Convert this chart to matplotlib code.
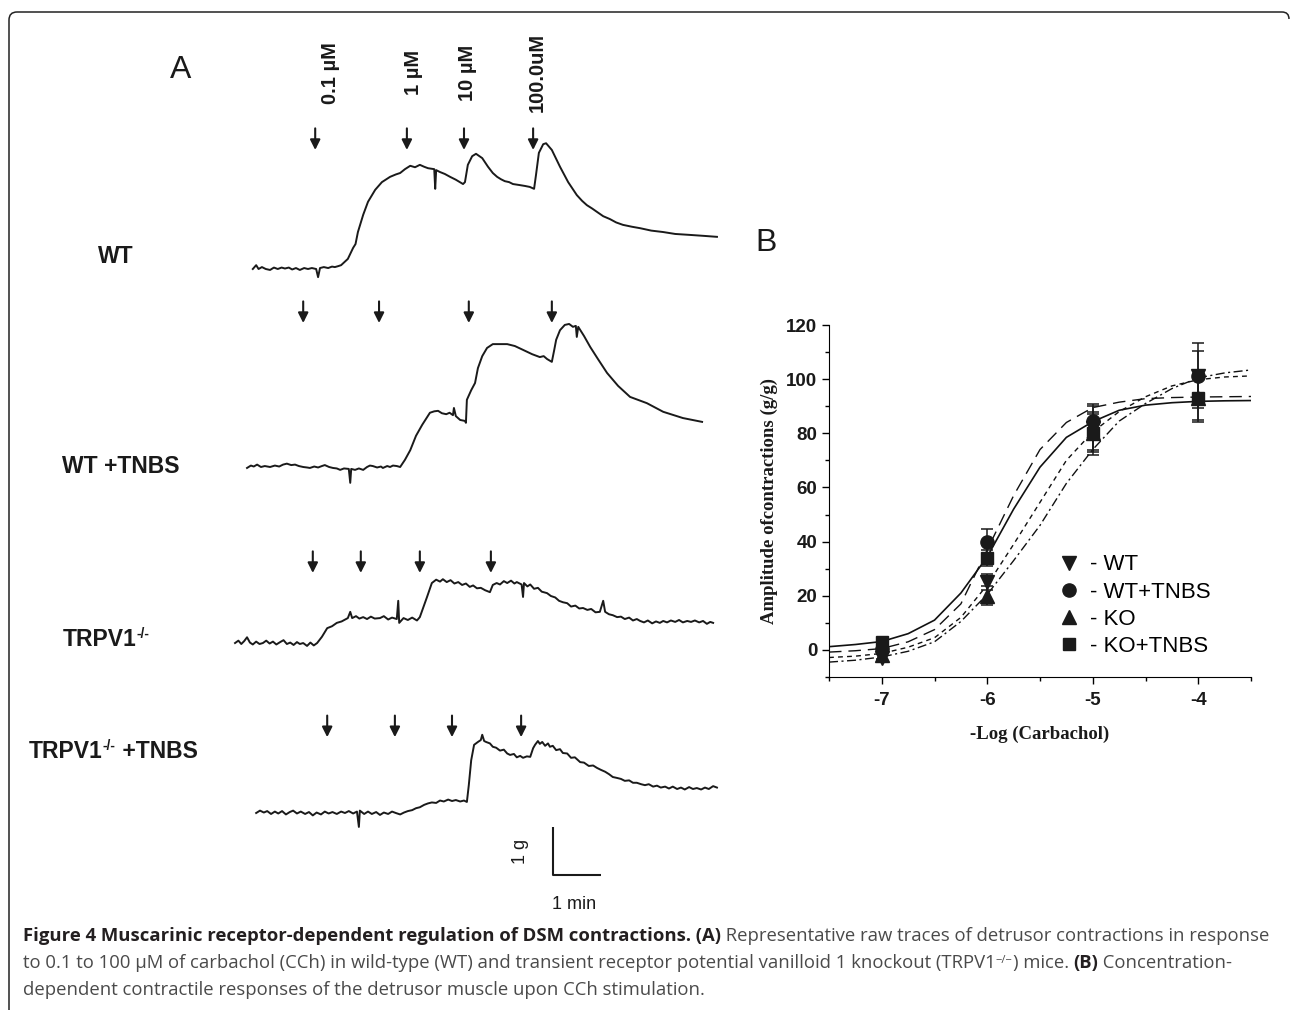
import matplotlib
matplotlib.use('Agg')
import matplotlib.pyplot as plt
from matplotlib.lines import Line2D
from matplotlib.path import Path
from matplotlib.patches import PathPatch
from matplotlib.transforms import IdentityTransform

W, H = 1290, 1010
DPI = 100

SANS = 'Liberation Sans'
SERIF = 'Liberation Serif'
CAP_FONT = 'Open Sans'

# ---------------- panel A: raw traces (time in min, tension in g) ----------------
TRACE_NAMES = ['WT', 'WT +TNBS', 'TRPV1', 'TRPV1']

wt_t = [1.10, 1.17, 1.22, 1.29, 1.37, 1.46, 1.54, 1.62, 1.70, 1.77, 1.85, 1.92, 2.00,
        2.08, 2.17, 2.25, 2.33, 2.42, 2.46, 2.50, 2.58, 2.67, 2.75, 2.81, 2.88, 2.94,
        3.08, 3.19, 3.24, 3.29, 3.40, 3.50, 3.65, 3.79, 3.96, 4.08, 4.17, 4.27, 4.38,
        4.48, 4.58, 4.67, 4.75, 4.88, 4.90, 4.92, 5.00, 5.10, 5.21, 5.33, 5.48, 5.52,
        5.58, 5.67, 5.75, 5.88, 6.00, 6.10, 6.19, 6.27, 6.35, 6.44, 6.52, 6.65, 6.77,
        6.87, 6.96, 7.00, 7.06, 7.15, 7.21, 7.33, 7.50, 7.67, 7.85, 7.96, 8.06, 8.17,
        8.27, 8.40, 8.54, 8.67, 8.81, 9.00, 9.17, 9.40, 9.65, 9.90, 10.21, 10.50, 10.77]
wt_g = [0.00, 0.08, 0.00, 0.04, 0.00, -0.02, 0.03, 0.00, 0.03, 0.01, 0.03, -0.01, 0.02,
        -0.02, 0.02, 0.00, 0.02, 0.00, -0.17, 0.02, 0.04, 0.02, 0.05, 0.04, 0.06, 0.08,
        0.21, 0.44, 0.52, 0.77, 1.13, 1.40, 1.65, 1.81, 1.92, 1.97, 2.00, 2.08, 2.15,
        2.12, 2.17, 2.13, 2.10, 2.08, 1.67, 2.06, 2.02, 1.98, 1.92, 1.86, 1.77, 1.81,
        2.17, 2.35, 2.40, 2.31, 2.13, 2.00, 1.92, 1.87, 1.83, 1.81, 1.77, 1.75, 1.73,
        1.71, 1.67, 1.96, 2.42, 2.60, 2.62, 2.48, 2.13, 1.81, 1.54, 1.42, 1.33, 1.26,
        1.19, 1.10, 1.04, 0.97, 0.92, 0.88, 0.85, 0.80, 0.77, 0.73, 0.71, 0.69, 0.67]

wtt_t = [0.98, 1.06, 1.12, 1.19, 1.27, 1.35, 1.46, 1.56, 1.65, 1.73, 1.81, 1.90, 1.98,
         2.06, 2.15, 2.23, 2.29, 2.38, 2.46, 2.54, 2.60, 2.69, 2.77, 2.85, 2.92, 3.00,
         3.10, 3.13, 3.15, 3.23, 3.31, 3.40, 3.48, 3.54, 3.60, 3.69, 3.77, 3.81, 3.90,
         3.96, 4.02, 4.10, 4.17, 4.27, 4.38, 4.50, 4.63, 4.79, 4.88, 4.96, 5.04, 5.13,
         5.20, 5.27, 5.29, 5.33, 5.42, 5.52, 5.54, 5.56, 5.65, 5.73, 5.79, 5.88, 5.98,
         6.10, 6.25, 6.40, 6.56, 6.73, 6.92, 7.08, 7.16, 7.23, 7.33, 7.38, 7.42, 7.50,
         7.60, 7.69, 7.77, 7.83, 7.85, 7.88, 8.00, 8.13, 8.29, 8.48, 8.71, 8.96, 9.31,
         9.65, 10.06, 10.46]
wtt_g = [-0.02, 0.03, 0.01, 0.05, 0.00, 0.02, 0.00, 0.03, 0.01, 0.05, 0.07, 0.04, 0.05,
         0.02, 0.00, -0.01, -0.02, 0.01, -0.01, 0.02, 0.04, 0.00, -0.02, -0.03, -0.06,
         -0.03, -0.04, -0.33, -0.04, -0.06, -0.03, -0.06, 0.00, 0.03, 0.02, -0.01, 0.01,
         -0.02, 0.02, 0.00, 0.03, 0.02, 0.00, 0.15, 0.35, 0.65, 0.88, 1.13, 1.16, 1.17,
         1.12, 1.10, 1.13, 1.08, 1.23, 1.06, 0.98, 0.96, 0.92, 1.40, 1.60, 1.75, 2.06,
         2.31, 2.48, 2.56, 2.56, 2.56, 2.52, 2.44, 2.35, 2.29, 2.31, 2.25, 2.19, 2.44,
         2.65, 2.85, 2.96, 2.98, 2.92, 2.94, 2.71, 2.92, 2.73, 2.50, 2.25, 1.96, 1.69,
         1.46, 1.33, 1.15, 1.02, 0.94]

ko_t = [0.73, 0.80, 0.86, 0.92, 0.98, 1.04, 1.10, 1.17, 1.24, 1.31, 1.38, 1.45, 1.52,
        1.59, 1.67, 1.74, 1.81, 1.88, 1.95, 2.02, 2.08, 2.15, 2.23, 2.30, 2.37, 2.44,
        2.54, 2.65, 2.75, 2.85, 2.95, 3.08, 3.13, 3.17, 3.25, 3.32, 3.40, 3.48, 3.56,
        3.64, 3.75, 3.83, 3.92, 4.00, 4.10, 4.13, 4.15, 4.24, 4.33, 4.42, 4.52, 4.58,
        4.73, 4.83, 4.92, 5.00, 5.06, 5.14, 5.22, 5.30, 5.38, 5.46, 5.54, 5.62, 5.69,
        5.77, 5.85, 5.94, 6.04, 6.10, 6.18, 6.25, 6.33, 6.40, 6.48, 6.55, 6.60, 6.70,
        6.73, 6.75, 6.82, 6.88, 6.96, 7.04, 7.12, 7.23, 7.31, 7.40, 7.48, 7.56, 7.65,
        7.73, 7.82, 7.90, 7.98, 8.07, 8.15, 8.24, 8.33, 8.40, 8.44, 8.52, 8.60, 8.69,
        8.77, 8.85, 8.94, 9.02, 9.10, 9.17, 9.25, 9.33, 9.42, 9.50, 9.58, 9.65, 9.73,
        9.81, 9.90, 9.98, 10.06, 10.15, 10.23, 10.31, 10.40, 10.48, 10.56, 10.63, 10.69]
ko_g = [0.00, 0.05, -0.02, 0.04, 0.12, 0.01, -0.03, 0.03, -0.02, 0.00, 0.05, -0.01, 0.03,
        -0.03, 0.02, 0.06, -0.02, 0.01, -0.04, 0.02, -0.02, 0.00, -0.06, 0.01, -0.05, 0.00,
        0.13, 0.31, 0.35, 0.42, 0.45, 0.52, 0.65, 0.52, 0.56, 0.51, 0.54, 0.50, 0.55,
        0.51, 0.52, 0.56, 0.49, 0.53, 0.50, 0.88, 0.42, 0.52, 0.48, 0.53, 0.47, 0.54,
        0.96, 1.25, 1.32, 1.28, 1.33, 1.27, 1.31, 1.24, 1.27, 1.21, 1.24, 1.17, 1.20,
        1.14, 1.15, 1.10, 1.06, 1.21, 1.25, 1.22, 1.29, 1.25, 1.30, 1.24, 1.27, 1.22,
        0.96, 1.25, 1.18, 1.22, 1.13, 1.15, 1.07, 1.04, 0.98, 0.95, 0.88, 0.85, 0.83,
        0.76, 0.78, 0.72, 0.73, 0.69, 0.71, 0.64, 0.65, 0.88, 0.65, 0.60, 0.58, 0.54,
        0.55, 0.50, 0.53, 0.47, 0.50, 0.46, 0.43, 0.47, 0.41, 0.45, 0.42, 0.46, 0.43,
        0.47, 0.44, 0.48, 0.43, 0.46, 0.44, 0.47, 0.43, 0.46, 0.40, 0.44, 0.42]

kot_t = [1.17, 1.25, 1.33, 1.40, 1.48, 1.56, 1.63, 1.71, 1.79, 1.87, 1.94, 2.02, 2.10,
         2.19, 2.27, 2.35, 2.43, 2.52, 2.60, 2.68, 2.76, 2.85, 2.94, 3.02, 3.10, 3.19,
         3.27, 3.31, 3.33, 3.42, 3.50, 3.58, 3.67, 3.75, 3.83, 3.92, 4.00, 4.08, 4.17,
         4.25, 4.33, 4.42, 4.50, 4.58, 4.67, 4.75, 4.83, 4.92, 5.00, 5.08, 5.17, 5.25,
         5.33, 5.42, 5.50, 5.56, 5.60, 5.65, 5.71, 5.79, 5.85, 5.88, 5.92, 5.96, 6.04,
         6.10, 6.17, 6.25, 6.33, 6.40, 6.46, 6.54, 6.60, 6.67, 6.73, 6.81, 6.88, 6.94,
         6.98, 7.04, 7.08, 7.13, 7.19, 7.25, 7.29, 7.35, 7.42, 7.50, 7.56, 7.65, 7.73,
         7.81, 7.92, 8.00, 8.10, 8.19, 8.27, 8.35, 8.44, 8.52, 8.60, 8.69, 8.77, 8.85,
         8.94, 9.02, 9.10, 9.19, 9.27, 9.35, 9.44, 9.52, 9.60, 9.69, 9.77, 9.85, 9.94,
         10.02, 10.10, 10.19, 10.27, 10.35, 10.44, 10.52, 10.60, 10.69, 10.77]
kot_g = [0.00, 0.05, 0.01, 0.04, -0.02, 0.03, -0.01, 0.04, -0.03, 0.02, 0.05, -0.01, 0.03,
         -0.02, 0.02, -0.05, 0.01, -0.03, 0.03, -0.01, 0.02, -0.02, 0.03, 0.00, 0.04,
         -0.01, 0.03, -0.29, 0.05, -0.02, 0.03, -0.02, 0.02, -0.04, 0.01, -0.02, 0.03,
         0.00, -0.03, 0.01, 0.04, 0.06, 0.10, 0.12, 0.17, 0.20, 0.22, 0.21, 0.26, 0.24,
         0.28, 0.25, 0.27, 0.24, 0.26, 0.23, 0.58, 1.10, 1.42, 1.48, 1.52, 1.63, 1.50,
         1.48, 1.45, 1.38, 1.36, 1.30, 1.32, 1.24, 1.21, 1.23, 1.16, 1.19, 1.15, 1.18,
         1.17, 1.35, 1.42, 1.50, 1.44, 1.48, 1.40, 1.45, 1.38, 1.40, 1.31, 1.33, 1.25,
         1.24, 1.15, 1.16, 1.06, 1.05, 0.98, 0.99, 0.94, 0.90, 0.86, 0.81, 0.75, 0.73,
         0.71, 0.67, 0.68, 0.63, 0.63, 0.60, 0.58, 0.60, 0.55, 0.57, 0.53, 0.55, 0.51,
         0.55, 0.50, 0.53, 0.49, 0.54, 0.50, 0.52, 0.49, 0.53, 0.50, 0.56, 0.53]

# times of carbachol addition (min) for each trace
wt_add = [2.40, 4.31, 5.50, 6.94]
wtt_add = [2.15, 3.73, 5.60, 7.33]
ko_add = [2.35, 3.35, 4.58, 6.06]
kot_add = [2.65, 4.06, 5.25, 6.69]

DOSE_LABELS = ['0.1 \u00b5M', '1 \u00b5M', '10 \u00b5M', '100.0uM']
dose_label_t = [2.71, 4.44, 5.58, 7.02]

# ---------------- panel B: concentration-response ----------------
log_conc = [-7, -6, -5, -4]
wt_mean = [-3.0, 25.0, 82.0, 101.0]
wt_err = [1.5, 3.0, 8.0, 9.5]
wttnbs_mean = [0.5, 40.0, 84.5, 101.2]
wttnbs_err = [1.5, 4.5, 6.5, 12.0]
ko_mean = [-2.0, 20.0, 80.0, 93.0]
ko_err = [1.5, 3.5, 8.0, 8.0]
kotnbs_mean = [2.8, 34.0, 80.0, 93.0]
kotnbs_err = [1.5, 3.0, 7.0, 9.0]

fit_x = [-7.5, -7.25, -7.0, -6.75, -6.5, -6.25, -6.0, -5.75, -5.5, -5.25, -5.0,
         -4.75, -4.5, -4.25, -4.0, -3.75, -3.5]
fit_solid = [1.2, 2.0, 3.1, 6.0, 11.0, 21.0, 34.4, 52.0, 67.5, 78.5, 84.3,
             88.5, 90.4, 91.3, 91.8, 92.0, 92.1]
fit_longdash = [-0.8, -0.3, 0.5, 3.0, 7.5, 17.0, 37.0, 57.0, 74.0, 84.0, 89.5,
                91.5, 92.8, 93.2, 93.4, 93.5, 93.6]
fit_shortdash = [-2.8, -2.3, -1.3, 1.0, 4.5, 12.0, 24.0, 39.0, 54.5, 70.0, 80.5,
                 88.0, 93.5, 97.5, 99.8, 100.8, 101.2]
fit_dashdot = [-4.5, -3.8, -2.6, -0.5, 3.0, 10.5, 20.5, 33.0, 46.0, 61.5, 74.0,
               84.5, 91.0, 96.5, 100.5, 102.3, 103.4]

LEGEND_LABELS = ['- WT', '- WT+TNBS', '- KO', '- KO+TNBS']


def fx(x):
    return x / W


def fy(y):
    return 1 - y / H


def put_runs(fig, x, y, runs):
    # draw text pieces one after another, x/y in pixels from top-left
    rend = fig.canvas.get_renderer()
    arts = []
    for text, dy, kw in runs:
        t = fig.text(fx(x), fy(y - dy), text, va='baseline', ha='left', **kw)
        arts.append(t)
        x += t.get_window_extent(rend).width
    return x, arts


def main():
    plt.rcParams['axes.unicode_minus'] = False
    fig = plt.figure(figsize=(W / DPI, H / DPI), dpi=DPI)

    # frame: left and top edges with rounded corners (display pixels)
    top = H - 12
    verts = [(9, -5), (9, top - 8), (9, top), (17, top), (1282, top),
             (1289, top), (1289, top - 7)]
    codes = [Path.MOVETO, Path.LINETO, Path.CURVE3, Path.CURVE3, Path.LINETO,
             Path.CURVE3, Path.CURVE3]
    fig.add_artist(PathPatch(Path(verts, codes), transform=IdentityTransform(),
                             fill=False, ec='#222222', lw=1.1))

    # ---------- panel A ----------
    axa = fig.add_axes([fx(200), fy(920), 560 / W, 900 / H])
    axa.set_xlim(0, 560 / 48)
    axa.set_ylim(0, 900 / 48)
    axa.axis('off')

    traces = [(wt_t, wt_g, wt_add), (wtt_t, wtt_g, wtt_add),
              (ko_t, ko_g, ko_add), (kot_t, kot_g, kot_add)]
    offsets = [13.5625, 9.4375, 5.77, 2.229]
    arrow_rel = [2.48, 3.00, 1.46, 1.58]
    for (t, g, add), off, ar in zip(traces, offsets, arrow_rel):
        axa.plot(t, [v + off for v in g], color='#1a1a1a', lw=1.4,
                 solid_joinstyle='round')
        for ta in add:
            axa.annotate('', xy=(ta, off + ar), xytext=(ta, off + ar + 0.45),
                         arrowprops=dict(arrowstyle='-|>', color='#1a1a1a',
                                         lw=1.5, mutation_scale=15,
                                         shrinkA=0, shrinkB=0))

    for lab, tl in zip(DOSE_LABELS, dose_label_t):
        axa.text(tl, 17.65, lab, rotation=90, ha='center', va='center',
                 fontsize=14.5, fontweight='bold', family=SANS, color='#1a1a1a')

    # scale bar 1 g / 1 min
    sb_t, sb_y = 7.35, 0.9375
    axa.plot([sb_t, sb_t, sb_t + 1], [sb_y + 1, sb_y, sb_y], color='#1a1a1a',
             lw=1.5, solid_capstyle='butt')
    axa.text(sb_t - 0.68, sb_y + 0.5, '1 g', rotation=90, ha='center',
             va='center', fontsize=13, family=SANS, color='#1a1a1a')
    axa.text(sb_t + 0.45, sb_y - 0.62, '1 min', ha='center', va='center',
             fontsize=13, family=SANS, color='#1a1a1a')

    fig.text(fx(181), fy(70), 'A', fontsize=23, family=SANS, ha='center',
             va='center', color='#1a1a1a')
    fig.text(fx(766), fy(243), 'B', fontsize=23, family=SANS, ha='center',
             va='center', color='#1a1a1a')

    lab_kw = dict(fontsize=16.5, fontweight='bold', family=SANS, color='#1a1a1a')
    sup_kw = dict(fontsize=10, fontweight='bold', family=SANS, color='#1a1a1a')
    put_runs(fig, 98, 263, [(TRACE_NAMES[0], 0, lab_kw)])
    put_runs(fig, 62, 473, [(TRACE_NAMES[1], 0, lab_kw)])
    put_runs(fig, 63, 646, [(TRACE_NAMES[2], 0, lab_kw), ('-/-', 8, sup_kw)])
    put_runs(fig, 29, 758, [(TRACE_NAMES[3], 0, lab_kw), ('-/-', 8, sup_kw),
                            (' +TNBS', 0, lab_kw)])

    # ---------- panel B ----------
    ax = fig.add_axes([fx(829), fy(677), (1251 - 829) / W, 352 / H])
    ax.set_xlim(-7.5, -3.5)
    ax.set_ylim(-10, 120)

    ax.plot(fit_x, fit_solid, color='#111111', lw=1.2, ls='-')
    ax.plot(fit_x, fit_longdash, color='#111111', lw=1.0, ls=(0, (9, 5)))
    ax.plot(fit_x, fit_shortdash, color='#111111', lw=1.0, ls=(0, (3.5, 3)))
    ax.plot(fit_x, fit_dashdot, color='#111111', lw=1.0,
            ls=(0, (6.5, 2.5, 1.5, 2.5)))

    series = [(wt_mean, wt_err, 'v', 10), (wttnbs_mean, wttnbs_err, 'o', 9.5),
              (ko_mean, ko_err, '^', 10), (kotnbs_mean, kotnbs_err, 's', 8.5)]
    handles = []
    for mean, err, mk, ms in series:
        ax.errorbar(log_conc, mean, yerr=err, fmt=mk, color='#1a1a1a', ms=ms,
                    capsize=4, elinewidth=1.1, capthick=1.1)
        handles.append(Line2D([], [], marker=mk, ls='none', color='#1a1a1a',
                              ms=ms))

    ax.spines['top'].set_visible(False)
    ax.spines['right'].set_visible(False)
    ax.set_xticks(log_conc)
    ax.set_xticks([-7.5, -6.5, -5.5, -4.5, -3.5], minor=True)
    ax.set_yticks([0, 20, 40, 60, 80, 100, 120])
    ax.set_yticks([-10, 10, 30, 50, 70, 90, 110], minor=True)
    ax.tick_params(which='major', length=5, width=1, direction='out')
    ax.tick_params(which='minor', length=3, width=1, direction='out')
    for lab in ax.get_xticklabels() + ax.get_yticklabels():
        lab.set_fontfamily(SANS)
        lab.set_fontweight('bold')
        lab.set_fontsize(13.5)
        lab.set_color('#1a1a1a')
    ax.tick_params(axis='x', pad=6)
    ax.set_xlabel('-Log (Carbachol)', family=SERIF, fontweight='bold',
                  fontsize=13.5, labelpad=12, color='#1a1a1a')
    ax.set_ylabel('Amplitude ofcontractions (g/g)', family=SERIF,
                  fontweight='bold', fontsize=13.5, labelpad=6, color='#1a1a1a')

    ax.legend(handles, LEGEND_LABELS, loc='upper left',
              bbox_to_anchor=(0.515, 0.38), frameon=False, borderpad=0,
              handlelength=1.0, handletextpad=0.45, labelspacing=0.28,
              prop=dict(family=SANS, size=16))

    # ---------- caption ----------
    bold = dict(family=CAP_FONT, fontweight='bold', color='#231f20')
    reg = dict(family=CAP_FONT, color='#4a4a4a')
    size = 11.0
    line1 = [('Figure 4 Muscarinic receptor-dependent regulation of DSM contractions.', bold),
             (' (A)', bold),
             (' Representative raw traces of detrusor contractions in response', reg)]
    runs = [(s, 0, dict(kw, fontsize=size)) for s, kw in line1]
    end, arts = put_runs(fig, 23, 941, runs)
    scale = (1265 - 23) / (end - 23)
    for a in arts:
        a.remove()
    size *= scale
    put_runs(fig, 23, 941, [(s, 0, dict(kw, fontsize=size)) for s, kw in line1])
    line2 = [('to 0.1 to 100 \u00b5M of carbachol (CCh) in wild-type (WT) and transient '
              'receptor potential vanilloid 1 knockout (TRPV1', 0, reg),
             ('\u2212/\u2212', 5, dict(reg, fontsize=size * 0.6)),
             (') mice. ', 0, reg), ('(B)', 0, bold), (' Concentration-', 0, reg)]
    put_runs(fig, 23, 968, [(s, dy, dict(dict(fontsize=size), **kw))
                            for s, dy, kw in line2])
    put_runs(fig, 23, 995, [('dependent contractile responses of the detrusor '
                             'muscle upon CCh stimulation.', 0,
                             dict(reg, fontsize=size))])

    fig.savefig('out.png', dpi=DPI)


if __name__ == '__main__':
    main()
